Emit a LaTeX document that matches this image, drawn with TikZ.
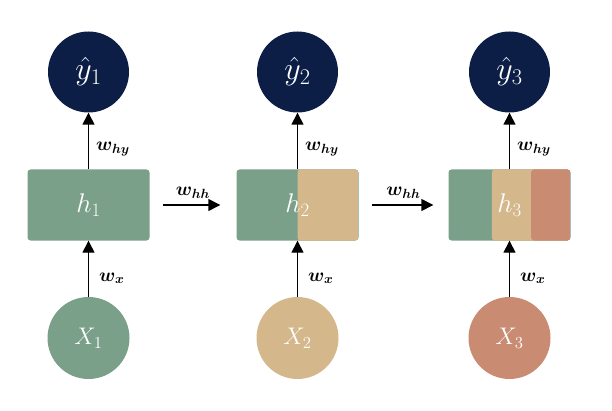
\RequirePackage{fix-cm}
\documentclass[tikz,border=0pt]{standalone}
\usepackage{amsmath}
\usepackage{tikz}
\usepackage{xcolor}
\usetikzlibrary{arrows.meta,positioning,calc}
\definecolor{sage}{RGB}{122,160,137}
\definecolor{wheat}{RGB}{212,184,139}
\definecolor{clay}{RGB}{201,140,115}
\definecolor{navy}{RGB}{12,30,70}

\begin{document}
\begin{tikzpicture}%
  [x=1pt,y=1pt,
   link/.style={line width=1.4pt,-{Triangle[length=12pt,width=12pt]}},
   weight/.style={font=\fontsize{19}{21}\selectfont,inner sep=1pt}]
  \tikzstyle{out node}=[circle,fill=navy,text=white,minimum size=81pt,inner sep=0,
    font=\fontsize{32}{34}\selectfont]
  \tikzstyle{in node}=[circle,text=white,minimum size=82pt,inner sep=0,
    font=\fontsize{24}{26}\selectfont]
  \tikzstyle{box node}=[rectangle,rounded corners=3pt,text=white,minimum width=122pt,
    minimum height=71pt,inner sep=0,font=\fontsize{27}{29}\selectfont]
  \useasboundingbox (0,0) rectangle (612,410);
  % hidden states
  \node(h1)[box node,fill=sage] at (88.5,205){$h_1$};
  \node(h2)[box node,fill=sage,path picture={
      \fill[wheat] (path picture bounding box.south)
        rectangle (path picture bounding box.north east);}] at (297.5,205){$h_2$};
  \node(h3)[box node,fill=sage,path picture={
      \fill[wheat] ($(path picture bounding box.south west)!0.355!(path picture bounding box.south east)$)
        rectangle (path picture bounding box.north east);
      \fill[clay] ($(path picture bounding box.south west)!0.677!(path picture bounding box.south east)$)
        rectangle (path picture bounding box.north east);}] at (509.5,205){$h_3$};
  % outputs
  \node(y1)[out node] at (88.5,338){$\hat{y}_1$};
  \node(y2)[out node] at (297.5,338){$\hat{y}_2$};
  \node(y3)[out node] at (509.5,338){$\hat{y}_3$};
  % inputs
  \node(x1)[in node,fill=sage] at (88.5,72){$X_1$};
  \node(x2)[in node,fill=wheat] at (297.5,72){$X_2$};
  \node(x3)[in node,fill=clay] at (509.5,72){$X_3$};
  % connections
  \foreach \i in {1,2,3}{
    \draw[link] (h\i) -- node[weight,pos=0.35,right=6pt]{$\boldsymbol{w_{hy}}$} (y\i);
    \draw[link] (x\i) -- node[weight,pos=0.33,right=9pt]{$\boldsymbol{w_{x}}$} (h\i);
  }
  \draw[link,shorten <=13pt,shorten >=16pt] (h1) -- node[weight,above=5pt]{$\boldsymbol{w_{hh}}$} (h2);
  \draw[link,shorten <=13pt,shorten >=15pt] (h2) -- node[weight,above=5pt]{$\boldsymbol{w_{hh}}$} (h3);
\end{tikzpicture}
\end{document}
